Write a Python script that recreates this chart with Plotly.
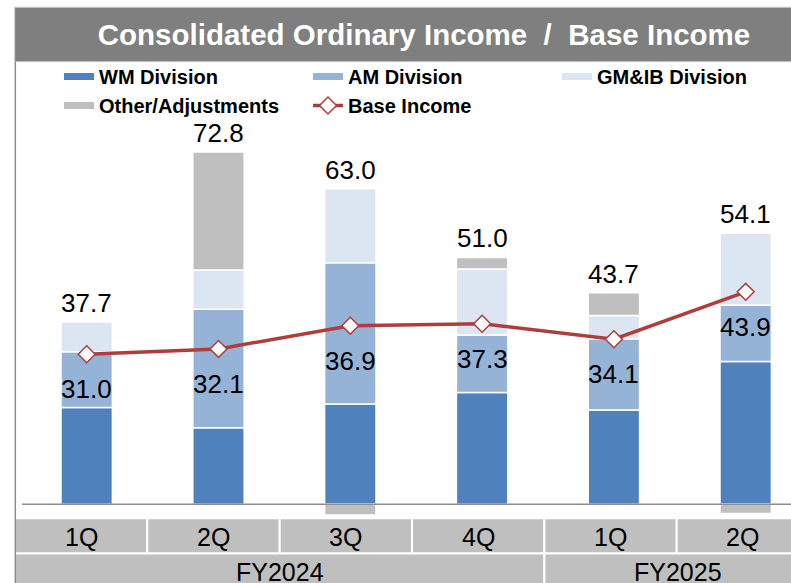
import plotly.graph_objects as go

# ---------------- data ----------------
categories = ["FY2024 1Q", "FY2024 2Q", "FY2024 3Q", "FY2024 4Q", "FY2025 1Q", "FY2025 2Q"]
quarter_labels = ["1Q", "2Q", "3Q", "4Q", "1Q", "2Q"]
fiscal_years = ["FY2024", "FY2025"]
wm_division = [20.0, 15.8, 20.7, 23.1, 19.5, 29.5]
am_division = [11.5, 24.5, 29.2, 11.9, 14.7, 11.7]
gmib_division = [6.2, 8.1, 15.3, 13.6, 4.8, 14.8]
other_adjustments = [0.0, 24.4, -2.2, 2.4, 4.7, -1.9]
consolidated_total = [37.7, 72.8, 63.0, 51.0, 43.7, 54.1]
base_income = [31.0, 32.1, 36.9, 37.3, 34.1, 43.9]

# ---------------- style ----------------
FONT = "Liberation Sans, Arial, sans-serif"
C_WM, C_AM, C_GM, C_OT = "#4F81BD", "#95B3D7", "#DCE6F2", "#BFBFBF"
C_LINE = "#AE3D3C"
W, H = 791, 583
ML = 14  # left margin (px)
PW = W - ML


def px_x(px):
    return (px - ML) / PW


def px_y(py):
    return (H - py) / H


xs = list(range(len(categories)))

fig = go.Figure()
series = [("WM Division", wm_division, C_WM),
          ("AM Division", am_division, C_AM),
          ("GM&IB Division", gmib_division, C_GM),
          ("Other/Adjustments", other_adjustments, C_OT)]
for name, vals, col in series:
    fig.add_trace(go.Bar(x=xs, y=vals, name=name, marker=dict(color=col, line=dict(color="white", width=1.5)),
                         width=0.39, showlegend=False, hoverinfo="name+y"))
# legend proxies (wide flat swatches like the original)
for name, vals, col in series:
    fig.add_trace(go.Scatter(x=[None], y=[None], mode="lines", name=name,
                             line=dict(color=col, width=7), showlegend=True))

fig.add_trace(go.Scatter(x=xs, y=base_income, mode="lines+markers", name="Base Income",
                         line=dict(color=C_LINE, width=3.5),
                         marker=dict(symbol="diamond", size=13, color="white",
                                     line=dict(color=C_LINE, width=1.5))))

annotations = []
# total labels above stacks
for i, tot in enumerate(consolidated_total):
    top = sum(v[i] for _, v, _ in series if v[i] > 0)
    annotations.append(dict(x=i, y=top, xref="x", yref="y", text=f"{tot:.1f}", showarrow=False,
                            xanchor="center", yanchor="middle", yshift=19,
                            font=dict(family=FONT, size=26, color="black")))
# base income labels
for i, b in enumerate(base_income):
    annotations.append(dict(x=i, y=b, xref="x", yref="y", text=f"{b:.1f}", showarrow=False,
                            xanchor="center", yanchor="middle", yshift=-35,
                            font=dict(family=FONT, size=26, color="black")))

shapes = []
# title band
shapes.append(dict(type="rect", xref="paper", yref="paper", x0=px_x(14.7), x1=px_x(795),
                   y0=px_y(61.7), y1=px_y(7.3), fillcolor="#7F7F7F", line=dict(color="#C9C9C9", width=1),
                   layer="below"))
# category table
q_bounds = [15, 147.3, 279.7, 412.0, 544.4, 676.7, 800]
q_centers = [81.2, 213.5, 345.9, 478.2, 610.6, 742.9]
fy_bounds = [15, 544.4, 800]
for i, q in enumerate(quarter_labels):
    x0, x1 = q_bounds[i], q_bounds[i + 1]
    shapes.append(dict(type="rect", xref="paper", yref="paper", x0=px_x(x0), x1=px_x(x1),
                       y0=px_y(553.5), y1=px_y(518.3), fillcolor="#BFBFBF", line=dict(color="white", width=2)))
    annotations.append(dict(x=px_x(q_centers[i]), y=px_y(537), xref="paper", yref="paper", text=q,
                            showarrow=False, xanchor="center", yanchor="middle",
                            font=dict(family=FONT, size=25, color="black")))
for i, fy in enumerate(fiscal_years):
    x0, x1 = fy_bounds[i], fy_bounds[i + 1]
    shapes.append(dict(type="rect", xref="paper", yref="paper", x0=px_x(x0), x1=px_x(x1),
                       y0=px_y(595), y1=px_y(553.5), fillcolor="#BFBFBF", line=dict(color="white", width=2)))
centers_fy = [279.7, 677.5]
for i, fy in enumerate(fiscal_years):
    annotations.append(dict(x=px_x(centers_fy[i]), y=px_y(572), xref="paper", yref="paper", text=fy,
                            showarrow=False, xanchor="center", yanchor="middle",
                            font=dict(family=FONT, size=25, color="black")))
# left frame line
shapes.append(dict(type="line", xref="paper", yref="paper", x0=px_x(15.3), x1=px_x(15.3),
                   y0=0, y1=px_y(61.7), line=dict(color="#8C8C8C", width=1.5)))
# zero axis line
shapes.append(dict(type="line", xref="paper", yref="y", x0=px_x(22), x1=1, y0=0, y1=0,
                   line=dict(color="#8C8C8C", width=1.5), layer="above"))

# axes geometry
K = 4.84          # px per unit
BASE_PX = 504.3   # pixel of zero
TOP_PX, BOT_PX = 62, 517
y_range = [(BASE_PX - BOT_PX) / K, (BASE_PX - TOP_PX) / K]
PITCH = 131.8
C0 = 86.7
x_range = [(ML - C0) / PITCH, (W - C0) / PITCH]

fig.update_layout(
    width=W, height=H,
    margin=dict(l=ML, r=0, t=0, b=0, autoexpand=False),
    paper_bgcolor="white", plot_bgcolor="rgba(0,0,0,0)",
    barmode="relative",
    title=dict(text="Consolidated Ordinary Income\u00a0\u00a0/\u00a0\u00a0Base Income", xref="container",
               yref="container", x=424 / W, xanchor="center", y=1 - 34.5 / H, yanchor="middle",
               font=dict(family=FONT, size=29.5, color="white", weight="bold")),
    xaxis=dict(range=x_range, domain=[0, 1], showticklabels=False, showgrid=False, zeroline=False,
               showline=False, fixedrange=True),
    yaxis=dict(range=y_range, domain=[px_y(BOT_PX), px_y(TOP_PX)], showticklabels=False, showgrid=False,
               zeroline=False, showline=False, fixedrange=True),
    legend=dict(orientation="h", x=px_x(59), xanchor="left", y=px_y(57), yanchor="top",
                entrywidth=204, entrywidthmode="pixels", traceorder="normal",
                font=dict(family=FONT, size=20, color="black", weight="bold"),
                bgcolor="rgba(0,0,0,0)", itemclick=False, itemdoubleclick=False),
    shapes=shapes,
    annotations=annotations,
    showlegend=True,
)

fig.write_html("out.html", config={"displayModeBar": False},
               post_script="document.body.style.margin='0px';document.body.style.overflow='hidden';")
